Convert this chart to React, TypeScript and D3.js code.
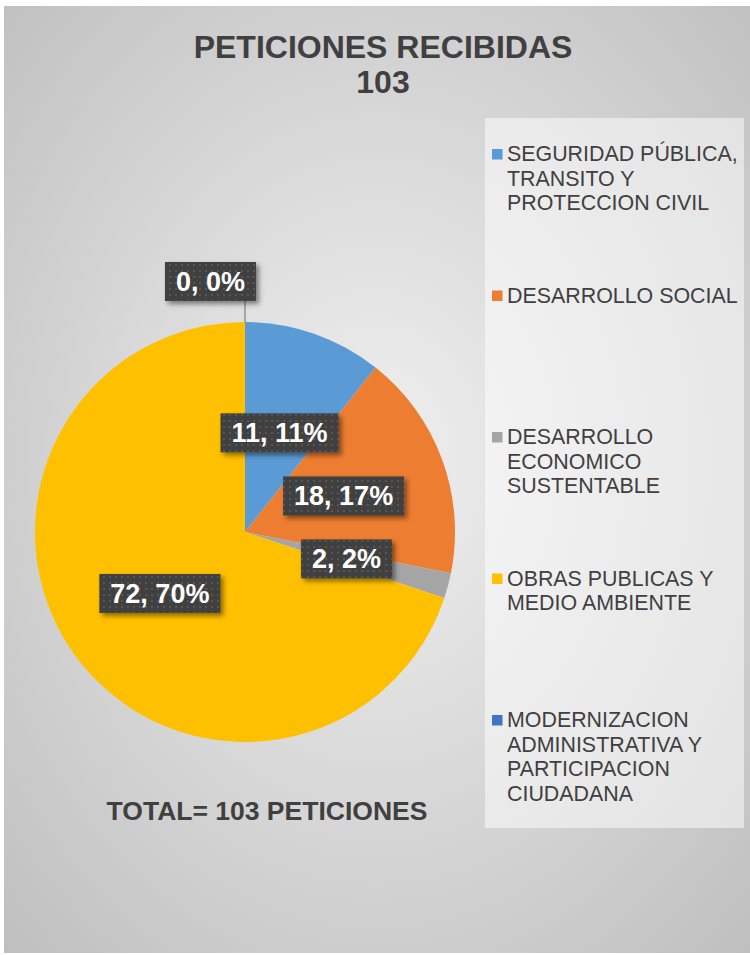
import { useEffect, useRef } from 'react';
import * as d3 from 'd3';

const categories = [
  'SEGURIDAD PÚBLICA, TRANSITO Y PROTECCION CIVIL',
  'DESARROLLO SOCIAL',
  'DESARROLLO ECONOMICO SUSTENTABLE',
  'OBRAS PUBLICAS Y MEDIO AMBIENTE',
  'MODERNIZACION ADMINISTRATIVA Y PARTICIPACION CIUDADANA',
];
const legendLines = [
  ['SEGURIDAD PÚBLICA,', 'TRANSITO Y', 'PROTECCION CIVIL'],
  ['DESARROLLO SOCIAL'],
  ['DESARROLLO', 'ECONOMICO', 'SUSTENTABLE'],
  ['OBRAS PUBLICAS Y', 'MEDIO AMBIENTE'],
  ['MODERNIZACION', 'ADMINISTRATIVA Y', 'PARTICIPACION', 'CIUDADANA'],
];
const values = [11, 18, 2, 72, 0];
const colors = ['#5B9BD5', '#ED7D31', '#A5A5A5', '#FFC000', '#4472C4'];
const title = ['PETICIONES RECIBIDAS', '103'];
const totalLabel = 'TOTAL= 103 PETICIONES';

const W = 750;
const H = 955;
const FONT = "'Liberation Sans', Arial, sans-serif";

export default function App() {
  const svgRef = useRef<SVGSVGElement>(null);

  useEffect(() => {
    if (!svgRef.current) return;
    document.body.style.margin = '0';
    const svg = d3.select(svgRef.current);
    svg.selectAll('*').remove();

    const defs = svg.append('defs');
    const bg = defs.append('radialGradient').attr('id', 'bg')
      .attr('cx', '50%').attr('cy', '48%').attr('r', '75%');
    bg.append('stop').attr('offset', '0%').attr('stop-color', '#f0f0f0');
    bg.append('stop').attr('offset', '100%').attr('stop-color', '#bdbdbd');

    const dots = defs.append('pattern').attr('id', 'dots')
      .attr('width', 6).attr('height', 6).attr('patternUnits', 'userSpaceOnUse');
    dots.append('rect').attr('width', 6).attr('height', 6).attr('fill', '#404040');
    dots.append('rect').attr('x', 2).attr('y', 2).attr('width', 2).attr('height', 2).attr('fill', '#565656');

    const shadow = defs.append('filter').attr('id', 'shadow')
      .attr('x', '-20%').attr('y', '-30%').attr('width', '150%').attr('height', '180%');
    shadow.append('feDropShadow').attr('dx', 3).attr('dy', 3).attr('stdDeviation', 2.5)
      .attr('flood-color', '#000').attr('flood-opacity', 0.45);

    // chart area
    svg.append('rect').attr('x', 4).attr('y', 6).attr('width', W - 4).attr('height', 947)
      .attr('fill', 'url(#bg)');

    svg.selectAll('text.title').data(title).enter().append('text')
      .attr('class', 'title')
      .attr('x', 383).attr('y', (_, i) => 58 + i * 35)
      .attr('text-anchor', 'middle')
      .attr('font-family', FONT).attr('font-weight', 'bold').attr('font-size', 32)
      .attr('fill', '#404040')
      .text(d => d);

    // pie
    const cx = 245, cy = 532, R = 210;
    const pie = d3.pie<number>().value(d => d).sort(null);
    const arcs = pie(values);
    const arc = d3.arc<d3.PieArcDatum<number>>().innerRadius(0).outerRadius(R);
    const g = svg.append('g').attr('transform', `translate(${cx},${cy})`);
    g.selectAll('path').data(arcs).enter().append('path')
      .attr('d', arc)
      .attr('fill', (_, i) => colors[i]);

    // data labels
    const total = d3.sum(values);
    const fmt = d3.format('.0%');
    const labelG = g.append('g');
    arcs.forEach((a, i) => {
      const txt = `${values[i]}, ${fmt(values[i] / total)}`;
      const lg = labelG.append('g');
      const t = lg.append('text')
        .attr('font-family', FONT).attr('font-weight', 'bold').attr('font-size', 27)
        .attr('fill', '#fff').attr('text-anchor', 'middle')
        .text(txt);
      const bw = (t.node() as SVGTextElement).getComputedTextLength() + 22;
      const bh = 39;
      let lx: number, ly: number;
      if (a.endAngle - a.startAngle > 0) {
        [lx, ly] = arc.centroid(a);
      } else {
        const ang = a.startAngle;
        const ax = Math.sin(ang) * R, ay = -Math.cos(ang) * R;
        ly = ay - 21 - bh / 2;
        lx = ax + 11 - bw / 2;
        labelG.insert('line', ':first-child')
          .attr('x1', ax).attr('y1', ay).attr('x2', ax).attr('y2', ay - 21)
          .attr('stroke', '#7f7f7f').attr('stroke-width', 1.2);
      }
      lg.insert('rect', 'text')
        .attr('x', lx - bw / 2).attr('y', ly - bh / 2)
        .attr('width', bw).attr('height', bh)
        .attr('fill', 'url(#dots)').attr('filter', 'url(#shadow)');
      t.attr('x', lx).attr('y', ly + 9.5);
    });

    svg.append('text')
      .attr('x', 267).attr('y', 820)
      .attr('text-anchor', 'middle')
      .attr('font-family', FONT).attr('font-weight', 'bold').attr('font-size', 26.5)
      .attr('fill', '#404040')
      .text(totalLabel);

    // legend
    const lgBox = svg.append('g');
    lgBox.append('rect').attr('x', 485).attr('y', 118).attr('width', 259).attr('height', 710)
      .attr('fill', '#fff').attr('fill-opacity', 0.5);
    const step = d3.scaleLinear().domain([0, categories.length - 1]).range([161, 727]);
    categories.forEach((c, i) => {
      const item = lgBox.append('g').attr('class', 'legend-item').attr('data-name', c);
      const y0 = step(i);
      item.append('rect').attr('x', 492).attr('y', y0 - 12).attr('width', 10.5).attr('height', 10.5)
        .attr('fill', colors[i]);
      item.selectAll('text').data(legendLines[i]).enter().append('text')
        .attr('x', 507).attr('y', (_, j) => y0 + j * 24.7)
        .attr('font-family', FONT).attr('font-size', 21.4)
        .attr('fill', '#404040')
        .text(d => d);
    });
  }, []);

  return (
    <svg ref={svgRef} width={W} height={H}
      style={{ display: 'block', position: 'absolute', left: 0, top: 0, background: '#fff' }} />
  );
}
